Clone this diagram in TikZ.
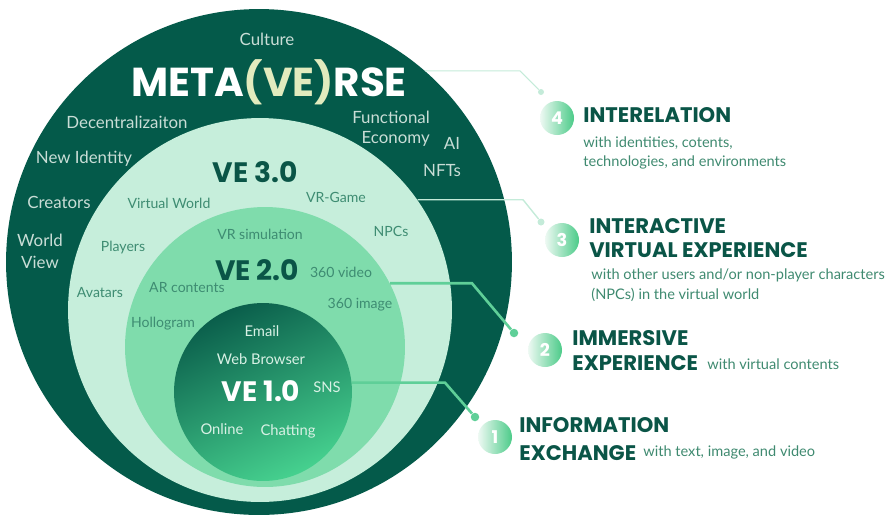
\documentclass[tikz,border=0pt]{standalone}
\usepackage{fontspec}
\setmainfont{Lato}
\newfontfamily\headfont{Poppins}
\usetikzlibrary{positioning}

\definecolor{deepgreen}{HTML}{045A4A}
\definecolor{palegreen}{HTML}{C6EEDB}
\definecolor{midgreen}{HTML}{7FDCAC}
\definecolor{coretop}{HTML}{0A5E4B}
\definecolor{corebot}{HTML}{46D18F}
\definecolor{inkgreen}{HTML}{0A5547}
\definecolor{outtxt}{HTML}{C9DDD6}
\definecolor{ringtxt}{HTML}{3E8C72}
\definecolor{coretxt}{HTML}{D8F1E5}
\definecolor{vecream}{HTML}{E2EBBE}
\definecolor{desctxt}{HTML}{3F8A70}
\definecolor{numlight}{HTML}{EEF9F3}
\definecolor{numgreen}{HTML}{4CCB89}
\definecolor{thinline}{HTML}{C4EBD9}
\definecolor{thickline}{HTML}{5FCF98}

\tikzset{
  ring/.style={circle, inner sep=0pt, draw=none},
  outlbl/.style={text=outtxt, font=\fontsize{9.6}{11.4}\selectfont},
  ringlbl/.style={text=ringtxt, font=\fontsize{8}{10}\selectfont},
  corelbl/.style={text=coretxt, font=\fontsize{8.4}{10}\selectfont},
  vetitle/.style={font=\headfont\bfseries\fontsize{16}{18}\selectfont, inner sep=0pt},
  numdot/.style={circle, inner sep=0pt, minimum size=0.68cm, left color=numlight, right color=numgreen,
    text=white, font=\headfont\bfseries\fontsize{10}{10}\selectfont},
  pin/.style={circle, inner sep=0pt, fill=#1, minimum size=0.17cm},
  headline/.style={anchor=west, align=left, text=inkgreen, inner sep=0pt, font=\headfont\bfseries\fontsize{12}{13.6}\selectfont},
  desc/.style={anchor=west, align=left, text=desctxt, inner sep=0pt, font=\fontsize{8.3}{11.3}\selectfont},
}

\begin{document}
\begin{tikzpicture}[x=0.02cm, y=-0.02cm]
  \useasboundingbox (0,0) rectangle (896,515);

  % nested rings, outermost first
  \node[ring, fill=deepgreen, minimum size=10.12cm] (world) at (259,262) {};
  \node[ring, fill=palegreen, minimum size=7.68cm] (ve3) at (260,310) {};
  \node[ring, fill=midgreen, minimum size=5.6cm] (ve2) at (265,347) {};
  \node[ring, top color=coretop, bottom color=corebot, shading angle=25, minimum size=3.56cm] (ve1) at (263,392) {};

  % outer ring
  \node[outlbl] (culture) at (267,39) {Culture};
  \node[font=\headfont\bfseries\fontsize{23}{26}\selectfont, text=white, inner sep=0pt] (brand) at (269,82)
    {META\textcolor{vecream}{(VE)}RSE};
  \node[outlbl] (decentral) at (127,122) {Decentralizaiton};
  \node[outlbl, align=right] (economy) at (391,129) {Functional\\Economy};
  \node[outlbl] (ai) at (452,143) {AI};
  \node[outlbl] (nfts) at (442,171) {NFTs};
  \node[outlbl] (identity) at (84,159) {New Identity};
  \node[outlbl] (creators) at (59,202) {Creators};
  \node[outlbl, align=center, font=\fontsize{9.6}{12.5}\selectfont] (worldview) at (40,251) {World\\View};

  % VE 3.0
  \node[vetitle, text=inkgreen] (t3) at (255,172) {VE 3.0};
  \node[ringlbl] (vworld) at (169,203) {Virtual World};
  \node[ringlbl] (vrgame) at (336,197) {VR-Game};
  \node[ringlbl] (npcs) at (391,231) {NPCs};
  \node[ringlbl] (players) at (123,248) {Players};
  \node[ringlbl] (avatars) at (100,293) {Avatars};

  % VE 2.0
  \node[vetitle, text=inkgreen] (t2) at (257,270) {VE 2.0};
  \node[ringlbl] (vrsim) at (260,234) {VR simulation};
  \node[ringlbl] (video) at (341,272) {360 video};
  \node[ringlbl] (arc) at (187,288) {AR contents};
  \node[ringlbl] (image) at (360,305) {360 image};
  \node[ringlbl] (holo) at (163,324) {Hollogram};

  % VE 1.0
  \node[vetitle, text=white] (t1) at (261,391) {VE 1.0};
  \node[corelbl] (email) at (262,331) {Email};
  \node[corelbl] (web) at (261,359) {Web Browser};
  \node[corelbl] (sns) at (327,387) {SNS};
  \node[corelbl] (online) at (222,429) {Online};
  \node[corelbl] (chat) at (288,431) {Chatting};

  % callout markers
  \node[pin=thinline, minimum size=0.12cm] (p4) at (541,92) {};
  \node[pin=thinline, minimum size=0.14cm] (p3) at (541,222) {};
  \node[pin=thickline] (p2) at (514,333) {};
  \node[pin=thickline] (p1) at (475,417) {};
  \coordinate (k4) at (520,69);
  \coordinate (k3) at (523,200);
  \coordinate (k2) at (472,282);
  \coordinate (k1) at (445,382);

  \draw[thinline, line width=0.6pt] (world.49.6) -- (world.49.6 -| k4) -- (p4);
  \draw[thinline, line width=0.8pt] (ve3.35) -- (ve3.35 -| k3) -- (p3);
  \draw[thickline, line width=1.5pt] (ve2.27.7) -- (ve2.27.7 -| k2) -- (p2);
  \draw[thickline, line width=1.5pt] (ve1.6.4) -- (ve1.6.4 -| k1) -- (p1);

  % numbered steps
  \node[numdot] (n4) at (557,118) {4};
  \node[numdot] (n3) at (562,240) {3};
  \node[numdot] (n2) at (545,350) {2};
  \node[numdot] (n1) at (495,437) {1};

  \node[headline] (h4) at (583,115) {INTERELATION};
  \node[desc] (d4) at (583,153) {with identities, cotents,\\technologies, and environments};
  \node[headline] (h3) at (589,238) {INTERACTIVE\\VIRTUAL EXPERIENCE};
  \node[desc] (d3) at (591,285) {with other users and/or non-player characters\\(NPCs) in the virtual world};
  \node[headline, font=\headfont\bfseries\fontsize{12}{14.2}\selectfont] (h2) at (572,351) {IMMERSIVE\\EXPERIENCE};
  \node[desc] (d2) at (707,364) {with virtual contents};
  \node[headline, font=\headfont\bfseries\fontsize{12}{15.9}\selectfont] (h1) at (519,439) {INFORMATION\\EXCHANGE};
  \node[desc] (d1) at (643,452) {with text, image, and video};
\end{tikzpicture}
\end{document}
